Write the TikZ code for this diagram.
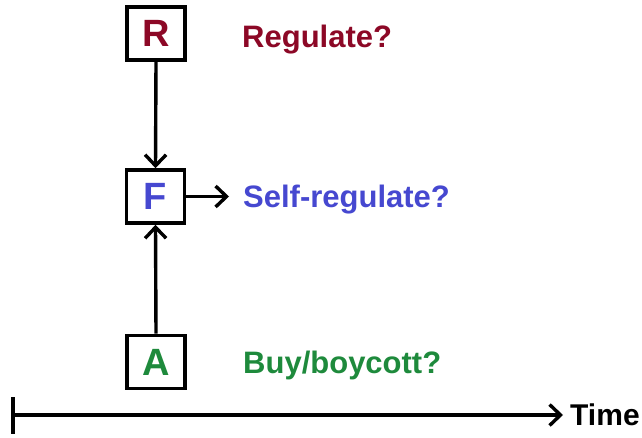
\documentclass[tikz,border=0pt]{standalone}
\usepackage{fontspec}
\setmainfont{Liberation Sans}
\usetikzlibrary{arrows.meta}
\definecolor{cR}{RGB}{140,8,38}
\definecolor{cF}{RGB}{70,72,208}
\definecolor{cA}{RGB}{30,138,60}
\tikzset{
  agent/.style={draw=black, line width=3.6pt, minimum width=58pt, minimum height=53pt, inner sep=0pt, font=\fontsize{38}{40}\selectfont\bfseries},
  lbl/.style={anchor=base west, inner sep=0pt, font=\fontsize{31}{34}\selectfont\bfseries},
  conn/.style={line width=3.4pt, -{Straight Barb[length=11pt,width=21pt,line width=3.4pt]}}
}
\begin{document}
\begin{tikzpicture}[x=1pt,y=-1pt]
\useasboundingbox (0,0) rectangle (642,438);
\node[agent, text=cR] (R) at (156,33.5) {R};
\node[agent, text=cF] (F) at (155.5,196.5) {F};
\node[agent, text=cA] (A) at (156,362) {A};
\node[lbl, text=cR] (lr) at (242,48) {Regulate?};
\node[lbl, text=cF] (lf) at (243,208) {Self-regulate?};
\node[lbl, text=cA] (la) at (243,373) {Buy/boycott?};
\node[lbl, text=black, font=\fontsize{30}{32}\selectfont\bfseries] (time) at (570,425) {Time};
\coordinate (fe) at (229,196.5);
\coordinate (t0) at (13,415);
\coordinate (t1) at (563,415);
\coordinate (ta) at (13,397);
\coordinate (tb) at (13,434);
\draw[conn] (R.south) -- (F.north);
\draw[conn] (A.north) -- (F.south);
\draw[conn] (F.east) -- (fe);
\draw[conn] (t0) -- (t1);
\draw[line width=3.4pt] (ta) -- (tb);
\end{tikzpicture}
\end{document}
